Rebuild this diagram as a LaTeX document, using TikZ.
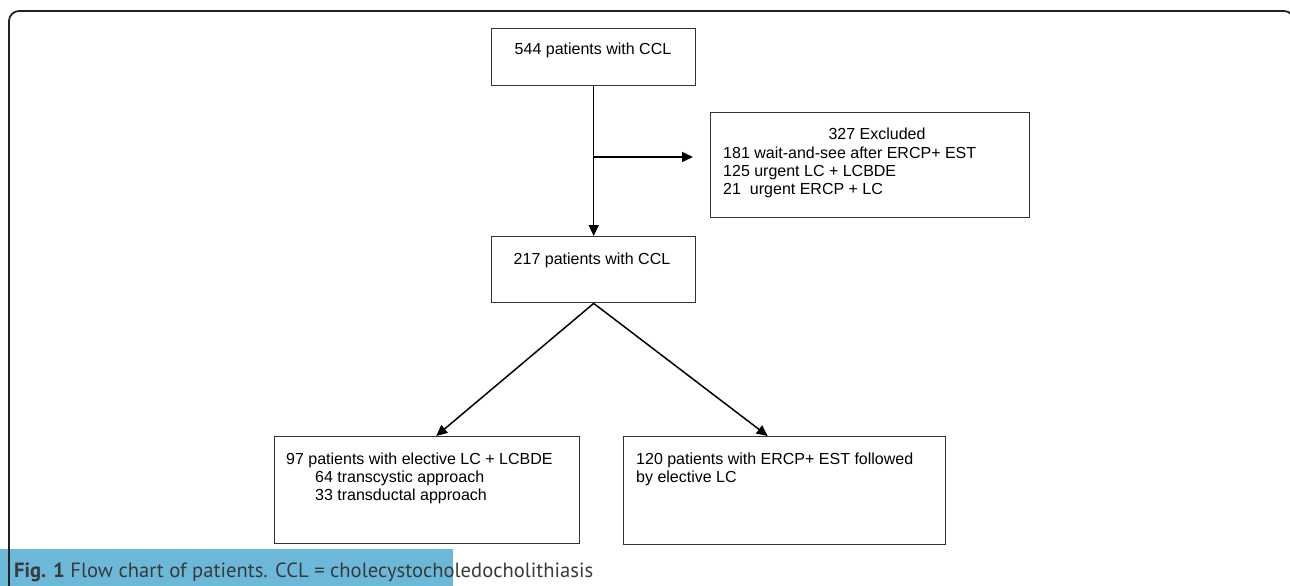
\documentclass[tikz,border=0pt]{standalone}
\usepackage{fontspec}
\setmainfont{Liberation Sans}
\newfontfamily\capfont{PT Sans}
\usetikzlibrary{arrows.meta,calc}
\definecolor{capblue}{HTML}{6CB8D9}
\definecolor{linegray}{HTML}{333333}
\definecolor{framegray}{HTML}{222222}
\definecolor{captext}{HTML}{3A3A3A}
\begin{document}
\begin{tikzpicture}[x=1pt,y=-1pt,
  box/.style={draw=linegray,line width=1.4pt,rectangle,inner sep=0pt,anchor=north west},
  txt/.style={font=\fontsize{16}{18.5}\selectfont,inner sep=0pt,anchor=base west,text=black},
  conn/.style={draw=black,line width=1.5pt,-{Stealth[length=11pt,width=10pt,inset=0pt]}}]
\useasboundingbox (0,0) rectangle (1290,586);
% caption bar
\fill[capblue] (0,549) rectangle (453,586);
% frame
\draw[framegray,line width=1.8pt,rounded corners=10pt] (9,640) -- (9,11) -- (1294,11) -- (1294,640);
% boxes
\node[box,minimum width=204pt,minimum height=57pt] (b1) at (491,28) {};
\node[box,minimum width=204pt,minimum height=66pt] (b2) at (491,236) {};
\node[box,minimum width=319pt,minimum height=105pt] (ex) at (710,112) {};
\node[box,minimum width=305pt,minimum height=107pt] (lb) at (274,436) {};
\node[box,minimum width=322pt,minimum height=108pt] (rb) at (623,436) {};
% texts
\node[txt,anchor=base] (t1) at (593,55) {544 patients with CCL};
\node[txt,anchor=base] (t2) at (592,264) {217 patients with CCL};
\node[txt,anchor=base] (e0) at (877,139) {327 Excluded};
\node[txt] (e1) at (723,158) {181 wait-and-see after ERCP+ EST};
\node[txt] (e2) at (723,176) {125 urgent LC + LCBDE};
\node[txt] (e3) at (723,194) {21\hspace{9pt}urgent ERCP + LC};
\node[txt] (l1) at (286,464) {97 patients with elective LC + LCBDE};
\node[txt] (l2) at (315,482) {64 transcystic approach};
\node[txt] (l3) at (315,500) {33 transductal approach};
\node[txt] (r1) at (636,464) {120 patients with ERCP+ EST followed};
\node[txt] (r2) at (636,482) {by elective LC};
% connectors
\coordinate (j) at (593,157);
\coordinate (jend) at (693,157);
\coordinate (ltip) at ($(lb.north)+(9,0)$);
\coordinate (rtip) at ($(rb.north)+(-17,0)$);
\draw[conn] (b1.south) -- (b2.north);
\draw[conn] (j) -- (jend);
\draw[conn] (b2.south) -- (ltip);
\draw[conn] (b2.south) -- (rtip);
% caption
\node[anchor=base west,inner sep=0pt,text=captext] (cap) at (14,577)
  {\resizebox{579pt}{!}{\capfont\fontsize{16}{18}\selectfont\textbf{Fig. 1} Flow chart of patients. CCL = cholecystocholedocholithiasis}};
\end{tikzpicture}
\end{document}
